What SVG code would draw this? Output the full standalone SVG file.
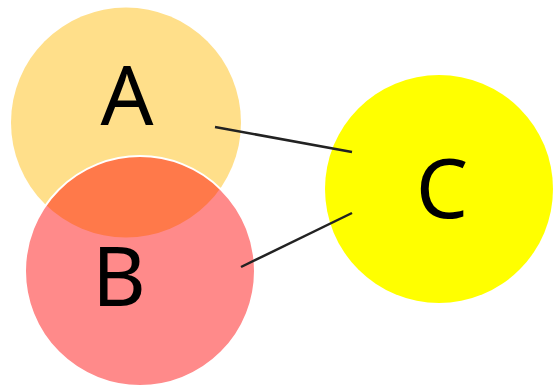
<svg xmlns="http://www.w3.org/2000/svg" width="556" height="386" viewBox="0 0 556 386">
<style>
.lbl{font-family:"Noto Sans","Liberation Sans",Arial,sans-serif;font-size:83px;fill:#000;text-anchor:middle}
.edge{stroke:#222;stroke-width:2.5;fill:none}
</style>
<rect width="556" height="386" fill="#fff"/>
<g id="nodeA"><circle cx="126" cy="122.5" r="115" fill="#FFDF8A"/><text class="lbl" x="127" y="125">A</text></g>
<g id="nodeB"><circle cx="140" cy="271" r="115" fill="#ff0000" fill-opacity="0.46" stroke="#fff" stroke-width="2"/><text class="lbl" x="119" y="306">B</text></g>
<g id="nodeC"><circle cx="439" cy="189" r="114" fill="#ffff00"/><text class="lbl" x="442" y="218">C</text></g>
<g id="connectors">
<line class="edge" x1="215" y1="127" x2="352" y2="152"/>
<line class="edge" x1="241" y1="267" x2="352" y2="213"/>
</g>
</svg>
